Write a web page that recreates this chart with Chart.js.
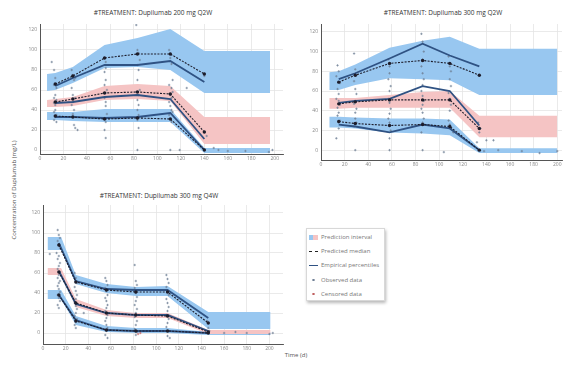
<!DOCTYPE html>
<html>
<head>
<meta charset="utf-8">
<script src="https://cdn.jsdelivr.net/npm/chart.js@4/dist/chart.umd.min.js"></script>
<style>
  body { margin:0; width:568px; height:367px; background:#fff; position:relative; overflow:hidden;
         font-family:"Open Sans","Liberation Sans",Arial,sans-serif; }
  canvas { position:absolute; }
  .ptitle { position:absolute; font-size:6.5px; color:#333; white-space:nowrap; transform:translateX(-50%); }
  .ytitle { position:absolute; font-size:6px; color:#555; white-space:nowrap;
            transform:translate(-50%,-50%) rotate(-90deg); }
  .xtitle { position:absolute; font-size:6px; color:#555; white-space:nowrap; transform:translateX(-50%); }
  .legend { position:absolute; left:306px; top:228px; width:79px; height:73px; background:#fff;
            border:1px solid #d8d8d8; box-shadow:1px 2px 3px rgba(0,0,0,0.28); box-sizing:border-box; }
  .legend div { position:absolute; left:2px; height:8px; font-size:6px; color:#777; white-space:nowrap; line-height:8px; }
  .legend span.ic { display:inline-block; width:9px; height:5px; margin-right:3px; vertical-align:middle; }
</style>
</head>
<body>

<div class="ptitle" style="left:153px; top:8px;">#TREATMENT: Dupilumab 200 mg Q2W</div>
<div class="ptitle" style="left:443px; top:8px;">#TREATMENT: Dupilumab 300 mg Q2W</div>
<div class="ptitle" style="left:159px; top:191px;">#TREATMENT: Dupilumab 300 mg Q4W</div>
<div class="ytitle" style="left:14px; top:190px;">Concentration of Dupilumab (mg/L)</div>
<div class="xtitle" style="left:296px; top:351px;">Time (d)</div>

<canvas id="c1" width="290" height="150" style="left:0px; top:18px;"></canvas>
<canvas id="c2" width="288" height="160" style="left:280px; top:18px;"></canvas>
<canvas id="c3" width="290" height="160" style="left:0px; top:199px;"></canvas>

<div class="legend">
  <div style="top:4px;"><span class="ic" style="background:linear-gradient(90deg,#98c7f0 50%,#f5c4c4 50%);"></span>Prediction interval</div>
  <div style="top:18px;"><span class="ic" style="height:0; border-top:1px dashed #222;"></span>Predicted median</div>
  <div style="top:32px;"><span class="ic" style="height:0; border-top:1.5px solid #2f5283;"></span>Empirical percentiles</div>
  <div style="top:47px;"><span class="ic" style="width:9px; height:8px; background:radial-gradient(circle,#6f7f95 1px,transparent 1.3px);"></span>Observed data</div>
  <div style="top:61px;"><span class="ic" style="width:9px; height:8px; background:radial-gradient(circle,#c06060 1px,transparent 1.3px);"></span>Censored data</div>
</div>

<script>
// Tick values shared by all panels
const xTicks = [0, 20, 40, 60, 80, 100, 120, 140, 160, 180, 200];
const yTicks = [0, 20, 40, 60, 80, 100, 120];

// ---- Dupilumab 200 mg Q2W ----
const p1Time    = [13, 28, 55, 83, 111, 140];
const p1BandX   = [6, 13, 28, 55, 83, 111, 140, 196];
const p1P90Hi   = [76, 77, 83, 105, 112, 121, 99, 99];
const p1P90Lo   = [59, 60, 67, 82, 83, 80, 57, 57];
const p1P50Hi   = [50, 51, 53, 64, 66, 64, 33, 33];
const p1P50Lo   = [43, 43, 44, 50, 51, 49, 6, 6];
const p1P10Hi   = [38, 38, 38, 41, 41, 41, 2, 2];
const p1P10Lo   = [30, 30, 29, 28, 28, 28, -3, -3];
const p1PredHi  = [66, 74, 92, 96, 96, 76];
const p1PredMid = [48, 51, 57, 58, 56, 18];
const p1PredLo  = [34, 33, 31, 32, 31, 0];
const p1EmpHi   = [64, 72, 85, 85, 89, 68];
const p1EmpMid  = [47, 48, 53, 55, 51, 11];
const p1EmpLo   = [33, 33, 32, 33, 37, 0];
const p1Observed = [
  [10,88],[12,80],[13,72],[12,65],[14,62],[13,55],[12,52],[14,50],[12,47],[13,45],[13,40],[12,38],[14,35],[13,33],[12,30],[14,28],[16,66],
  [27,80],[28,75],[30,72],[29,70],[27,62],[28,55],[30,52],[28,48],[27,45],[29,40],[28,36],[28,33],[29,25],[30,22],[32,20],
  [55,92],[56,88],[56,82],[55,78],[56,70],[55,65],[57,60],[56,57],[55,52],[56,48],[56,44],[57,36],[55,32],[56,28],[55,20],[56,12],
  [82,125],[83,100],[84,97],[85,90],[83,85],[84,80],[83,70],[85,60],[82,58],[84,55],[83,50],[84,45],[83,40],[84,35],[83,30],[84,22],[83,0],
  [110,100],[111,92],[112,86],[113,70],[110,65],[112,62],[113,58],[111,55],[112,52],[110,48],[111,44],[112,40],[113,38],[110,35],[112,28],[111,0],[119,0],[125,62],
  [140,74],[140,18],[142,14],[138,3],[148,2],[152,0],[160,-1],[175,-1],[195,-2],[198,0]
];
const p1Censored = [];

// ---- Dupilumab 300 mg Q2W ----
const p2Time    = [15, 29, 58, 86, 109, 134];
const p2BandX   = [7, 15, 29, 58, 86, 109, 134, 200];
const p2P90Hi   = [79, 80, 87, 104, 111, 115, 103, 103];
const p2P90Lo   = [61, 61, 66, 73, 72, 71, 56, 56];
const p2P50Hi   = [53, 53, 53, 56, 59, 60, 35, 35];
const p2P50Lo   = [42, 42, 43, 43, 43, 43, 13, 13];
const p2P10Hi   = [34, 34, 33, 32, 32, 31, 2, 2];
const p2P10Lo   = [23, 23, 22, 18, 17, 15, -3, -3];
const p2PredHi  = [69, 76, 88, 91, 88, 76];
const p2PredMid = [47, 49, 51, 51, 51, 22];
const p2PredLo  = [29, 27, 25, 26, 24, 0];
const p2EmpHi   = [72, 78, 93, 108, 96, 85];
const p2EmpMid  = [48, 50, 52, 65, 60, 25];
const p2EmpLo   = [26, 24, 18, 26, 22, 0];
const p2Observed = [
  [14,86],[15,80],[13,75],[16,68],[14,62],[15,57],[13,52],[15,50],[16,46],[14,43],[15,38],[14,35],[16,30],[15,28],[15,22],[13,12],
  [28,98],[29,82],[30,76],[28,70],[29,62],[30,57],[29,50],[28,47],[30,42],[29,38],[29,32],[30,28],[28,24],[29,0],
  [57,92],[58,85],[58,78],[57,72],[59,65],[58,60],[57,52],[58,48],[59,42],[58,37],[57,32],[58,28],[59,20],[58,12],[58,0],
  [85,118],[86,110],[87,100],[86,92],[85,85],[86,78],[87,72],[86,66],[85,60],[86,55],[87,50],[86,46],[85,42],[86,38],[87,32],[86,28],[85,18],[86,0],
  [108,95],[109,85],[110,80],[109,72],[110,65],[108,58],[109,52],[110,46],[109,40],[108,30],[109,26],[110,22],[112,18],[104,-2],
  [133,28],[135,22],[134,18],[132,8],[138,-1],[140,10],[146,10],[150,0],[170,-1],[185,-3],[200,-1]
];
const p2Censored = [];

// ---- Dupilumab 300 mg Q4W ----
const p3Time    = [14, 29, 56, 82, 110, 146];
const p3BandX   = [4, 16, 29, 56, 82, 110, 146, 201];
const p3P90Hi   = [96, 96, 58, 49, 46, 47, 21, 21];
const p3P90Lo   = [83, 83, 49, 40, 37, 37, 4, 4];
const p3P50Hi   = [65, 65, 34, 23, 20, 20, 3, 3];
const p3P50Lo   = [58, 58, 26, 17, 15, 15, -1, -1];
const p3P10Hi   = [43, 43, 17, 7, 5, 5, 1, 1];
const p3P10Lo   = [34, 34, 8, 1, 0, 0, -2, -2];
const p3PredHi  = [88, 51, 43, 41, 41, 10];
const p3PredMid = [61, 30, 20, 18, 17, 1];
const p3PredLo  = [38, 12, 3, 2, 2, 0];
const p3EmpHi   = [90, 52, 44, 43, 43, 15];
const p3EmpMid  = [62, 29, 20, 18, 18, 2];
const p3EmpLo   = [38, 13, 3, 2, 2, 0];
const p3Observed = [
  [6,79],[13,103],[14,98],[15,95],[13,92],[14,88],[15,85],[12,80],[14,77],[13,74],[15,70],[14,67],[13,64],[15,61],[14,58],[13,55],[15,52],[14,50],[13,47],[14,44],[15,41],[13,38],[14,35],[15,32],[13,28],[14,25],
  [28,60],[29,55],[30,50],[28,46],[29,42],[30,38],[29,34],[28,30],[29,27],[30,24],[29,20],[28,17],[30,14],[29,11],[28,8],[29,5],[36,20],
  [55,55],[56,52],[57,48],[55,45],[56,42],[57,38],[55,35],[56,32],[57,28],[56,25],[55,22],[57,18],[56,15],[55,12],[56,8],[57,5],[56,2],[55,-2],[57,-5],
  [81,68],[82,52],[83,48],[81,45],[82,40],[83,36],[82,32],[81,28],[83,24],[82,20],[81,16],[83,12],[82,8],[81,4],[83,1],[82,-2],
  [109,58],[110,54],[111,50],[109,46],[110,42],[111,38],[109,34],[110,30],[111,26],[110,22],[109,18],[111,14],[110,10],[109,6],[111,2],[110,-3],[112,-5],
  [145,12],[146,5],[147,2],[145,0],[160,0],[170,1],[180,0],[200,-1],[203,0]
];
const p3Censored = [[84,-1],[86,0]];

const BLUE = '#98c7f0';
const PINK = '#f5c4c4';
const EMP_COLOR = '#2f5283';
const PRED_COLOR = '#1d1d2b';
const OBS_COLOR = '#6f7f95';
const CENS_COLOR = '#c06060';

const pts = (xs, ys) => xs.map((x, i) => ({ x: x, y: ys[i] }));

function buildPanel(id, p, geo) {
  const datasets = [];
  [[p.p90Hi, p.p90Lo, BLUE], [p.p50Hi, p.p50Lo, PINK], [p.p10Hi, p.p10Lo, BLUE]].forEach(([hi, lo, col]) => {
    datasets.push({ data: pts(p.bandX, hi), fill: '+1', backgroundColor: col, borderColor: 'rgba(0,0,0,0)',
                    borderWidth: 0, pointRadius: 0, order: 10 });
    datasets.push({ data: pts(p.bandX, lo), fill: false, borderColor: 'rgba(0,0,0,0)',
                    borderWidth: 0, pointRadius: 0, order: 10 });
  });
  datasets.push({ data: p.observed.map(([x, y]) => ({ x, y })), showLine: false, pointStyle: 'cross',
                  pointRadius: 1.2, borderWidth: 0.7, borderColor: OBS_COLOR, order: 5 });
  datasets.push({ data: p.censored.map(([x, y]) => ({ x, y })), showLine: false, pointStyle: 'cross',
                  pointRadius: 1.2, borderWidth: 0.7, borderColor: CENS_COLOR, order: 5 });
  [p.empHi, p.empMid, p.empLo].forEach(ys => {
    datasets.push({ data: pts(p.time, ys), borderColor: EMP_COLOR, borderWidth: 1.8, pointRadius: 0, fill: false, order: 2 });
  });
  [p.predHi, p.predMid, p.predLo].forEach(ys => {
    datasets.push({ data: pts(p.time, ys), borderColor: PRED_COLOR, borderWidth: 1.1, borderDash: [2, 1.3],
                    pointRadius: 1.7, pointBackgroundColor: PRED_COLOR, pointBorderWidth: 0, fill: false, order: 1 });
  });

  const tickFont = { size: 5, family: '"Open Sans","Liberation Sans",Arial,sans-serif' };
  new Chart(document.getElementById(id), {
    type: 'line',
    data: { datasets },
    options: {
      responsive: false, animation: false, events: [],
      layout: { padding: { left: 0, top: geo.padT, right: geo.padR, bottom: 0 } },
      plugins: { legend: { display: false }, tooltip: { enabled: false }, title: { display: false } },
      elements: { line: { tension: 0 } },
      scales: {
        x: {
          type: 'linear', min: geo.xMin, max: geo.xMax,
          afterBuildTicks: s => { s.ticks = xTicks.filter(v => v <= geo.xMax).map(v => ({ value: v })); },
          afterFit: s => { s.height = geo.xH; },
          grid: { color: '#e4e4e4', lineWidth: 0.8, drawTicks: false },
          border: { display: true, color: '#555', width: 1 },
          ticks: { font: tickFont, color: '#888', padding: 2, maxRotation: 0, autoSkip: false }
        },
        y: {
          type: 'linear', min: geo.yMin, max: geo.yMax,
          afterBuildTicks: s => { s.ticks = yTicks.map(v => ({ value: v })); },
          afterFit: s => { s.width = geo.yW; },
          grid: { color: '#e4e4e4', lineWidth: 0.8, drawTicks: false },
          border: { display: true, color: '#555', width: 1 },
          ticks: { font: tickFont, color: '#888', padding: 3 }
        }
      }
    }
  });
}

buildPanel('c1', {
  time: p1Time, bandX: p1BandX, p90Hi: p1P90Hi, p90Lo: p1P90Lo, p50Hi: p1P50Hi, p50Lo: p1P50Lo,
  p10Hi: p1P10Hi, p10Lo: p1P10Lo, predHi: p1PredHi, predMid: p1PredMid, predLo: p1PredLo,
  empHi: p1EmpHi, empMid: p1EmpMid, empLo: p1EmpLo, observed: p1Observed, censored: p1Censored
}, { padT: 6, padR: 7, xH: 14, yW: 40, xMin: 0, xMax: 207, yMin: -4, yMax: 126 });

buildPanel('c2', {
  time: p2Time, bandX: p2BandX, p90Hi: p2P90Hi, p90Lo: p2P90Lo, p50Hi: p2P50Hi, p50Lo: p2P50Lo,
  p10Hi: p2P10Hi, p10Lo: p2P10Lo, predHi: p2PredHi, predMid: p2PredMid, predLo: p2PredLo,
  empHi: p2EmpHi, empMid: p2EmpMid, empLo: p2EmpLo, observed: p2Observed, censored: p2Censored
}, { padT: 6, padR: 6, xH: 18, yW: 41, xMin: 0, xMax: 204, yMin: -10, yMax: 128 });

buildPanel('c3', {
  time: p3Time, bandX: p3BandX, p90Hi: p3P90Hi, p90Lo: p3P90Lo, p50Hi: p3P50Hi, p50Lo: p3P50Lo,
  p10Hi: p3P10Hi, p10Lo: p3P10Lo, predHi: p3PredHi, predMid: p3PredMid, predLo: p3PredLo,
  empHi: p3EmpHi, empMid: p3EmpMid, empLo: p3EmpLo, observed: p3Observed, censored: p3Censored
}, { padT: 6, padR: 7, xH: 15, yW: 43, xMin: 0, xMax: 212, yMin: -11, yMax: 128 });
</script>
</body>
</html>
